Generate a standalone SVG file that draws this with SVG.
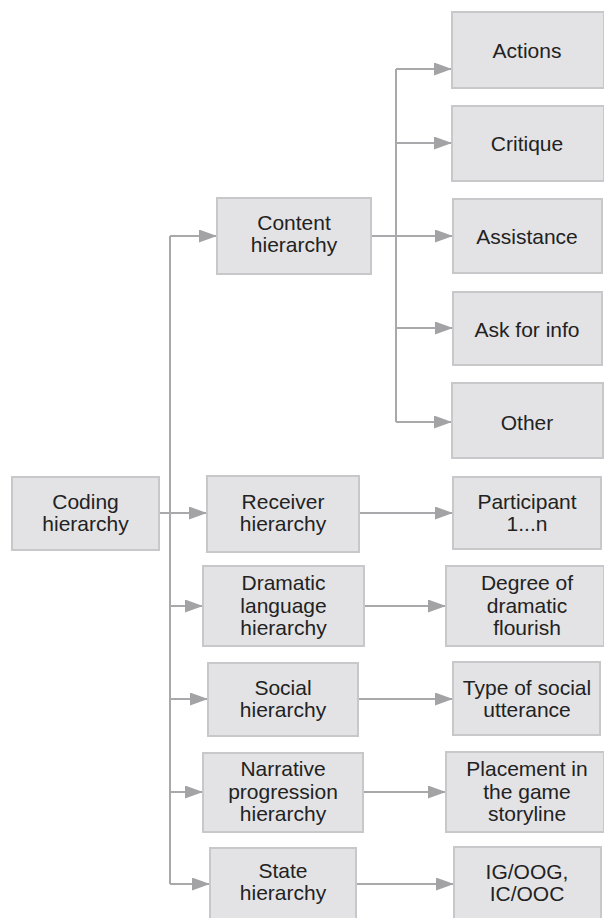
<svg xmlns="http://www.w3.org/2000/svg" width="604" height="918" viewBox="0 0 604 918">
<defs>
<marker id="ah" markerUnits="userSpaceOnUse" markerWidth="18" markerHeight="13" refX="18" refY="6.5" orient="auto">
<path d="M0,0 L18,6.5 L0,13 z" fill="#a3a3a5"/>
</marker>
<style>
.box{fill:#e3e3e5;stroke:#c8c8ca;stroke-width:2}
.t{font-family:"Liberation Sans",Arial,sans-serif;font-size:21px;fill:#222;text-anchor:middle}
.c{fill:none;stroke:#a9a9ab;stroke-width:2}
.a{fill:none;stroke:#a9a9ab;stroke-width:2;marker-end:url(#ah)}
</style>
</defs>
<rect width="604" height="918" fill="#fff"/>
<g id="connectors">
<path class="c" d="M170,236 V884"/>
<path class="a" d="M170,236 H217"/>
<path class="a" d="M159,513 H207"/>
<path class="a" d="M170,606 H203"/>
<path class="a" d="M170,699 H208"/>
<path class="a" d="M170,792 H203"/>
<path class="a" d="M170,884 H210"/>
<path class="c" d="M396,69 V422"/>
<path class="a" d="M371,236 H453"/>
<path class="a" d="M396,69 H452"/>
<path class="a" d="M396,143 H452"/>
<path class="a" d="M396,328 H453"/>
<path class="a" d="M396,422 H452"/>
<path class="a" d="M359,513 H453"/>
<path class="a" d="M364,606 H446"/>
<path class="a" d="M358,699 H453"/>
<path class="a" d="M363,792 H446"/>
<path class="a" d="M356,884 H454"/>
</g>
<g id="coding"><rect class="box" x="12" y="477" width="147" height="73"/><text class="t" x="85.5" y="509">Coding</text><text class="t" x="85.5" y="531">hierarchy</text></g>
<g id="content"><rect class="box" x="217" y="198" width="154" height="76"/><text class="t" x="294" y="230">Content</text><text class="t" x="294" y="252">hierarchy</text></g>
<g id="receiver"><rect class="box" x="207" y="476" width="152" height="76"/><text class="t" x="283" y="509">Receiver</text><text class="t" x="283" y="531">hierarchy</text></g>
<g id="dramatic"><rect class="box" x="203" y="566" width="161" height="80"/><text class="t" x="283.5" y="590">Dramatic</text><text class="t" x="283.5" y="612.5">language</text><text class="t" x="283.5" y="635">hierarchy</text></g>
<g id="social"><rect class="box" x="208" y="663" width="150" height="73"/><text class="t" x="283" y="695">Social</text><text class="t" x="283" y="717">hierarchy</text></g>
<g id="narrative"><rect class="box" x="203" y="753" width="160" height="79"/><text class="t" x="283" y="776">Narrative</text><text class="t" x="283" y="798.5">progression</text><text class="t" x="283" y="821">hierarchy</text></g>
<g id="state"><rect class="box" x="210" y="848" width="146" height="72"/><text class="t" x="283" y="878">State</text><text class="t" x="283" y="900">hierarchy</text></g>
<g id="actions"><rect class="box" x="452" y="12" width="152" height="76"/><text class="t" x="527" y="58">Actions</text></g>
<g id="critique"><rect class="box" x="452" y="106" width="152" height="75"/><text class="t" x="527" y="151">Critique</text></g>
<g id="assistance"><rect class="box" x="453" y="199" width="149" height="74"/><text class="t" x="527" y="244">Assistance</text></g>
<g id="askforinfo"><rect class="box" x="453" y="292" width="149" height="73"/><text class="t" x="527" y="337">Ask for info</text></g>
<g id="other"><rect class="box" x="452" y="383" width="151" height="75"/><text class="t" x="527" y="430">Other</text></g>
<g id="participant"><rect class="box" x="453" y="477" width="148" height="72"/><text class="t" x="527" y="509">Participant</text><text class="t" x="527" y="531">1...n</text></g>
<g id="degree"><rect class="box" x="446" y="566" width="158" height="80"/><text class="t" x="527" y="590">Degree of</text><text class="t" x="527" y="612.5">dramatic</text><text class="t" x="527" y="635">flourish</text></g>
<g id="type"><rect class="box" x="453" y="662" width="147" height="73"/><text class="t" x="527" y="695">Type of social</text><text class="t" x="527" y="717">utterance</text></g>
<g id="placement"><rect class="box" x="446" y="752" width="158" height="80"/><text class="t" x="527" y="776">Placement in</text><text class="t" x="527" y="798.5">the game</text><text class="t" x="527" y="821">storyline</text></g>
<g id="igoog"><rect class="box" x="454" y="847" width="147" height="73"/><text class="t" x="527" y="879">IG/OOG,</text><text class="t" x="527" y="901">IC/OOC</text></g>
</svg>
